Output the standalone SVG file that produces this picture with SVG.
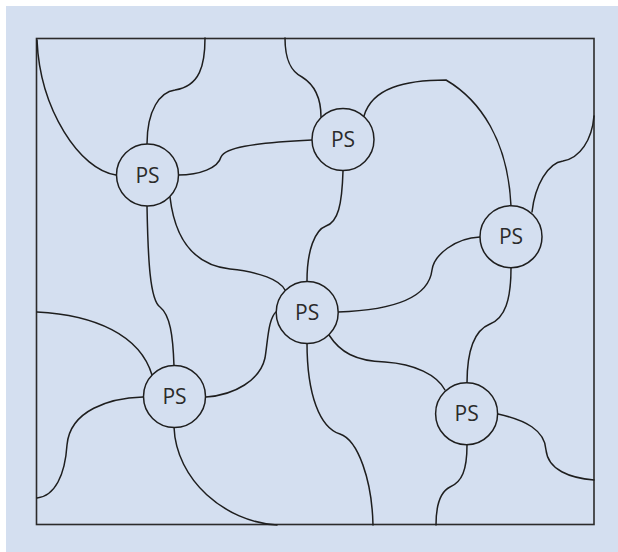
<svg xmlns="http://www.w3.org/2000/svg" width="618" height="552" viewBox="0 0 618 552">
<style>
.bg{fill:#d4dff0}
.frame{fill:none;stroke:#2b2b2b;stroke-width:1.6}
.edge{fill:none;stroke:#1e1e1e;stroke-width:1.5;stroke-linecap:round}
.node circle{fill:#d4dff0;stroke:#1e1e1e;stroke-width:1.5}
.node text{font-family:"Open Sans","Noto Sans","Liberation Sans",sans-serif;font-size:21px;fill:#2b2b2b;text-anchor:middle}
</style>
<rect class="bg" x="6" y="6" width="612" height="546"/>
<rect class="frame" x="36.5" y="38.5" width="557.5" height="486"/>
<g id="connectors">
<path class="edge" d="M116,175 C80,170 40,110 37,40"/>
<path class="edge" d="M147,144 C147,110 160,92 175,90 C200,86 205,65 205,38"/>
<path class="edge" d="M178,175 C200,175 218,168 221,157 C225,148 250,143 312,140"/>
<path class="edge" d="M147,206 C148,260 150,300 160,307 C170,315 173,335 174,366"/>
<path class="edge" d="M170,197 C175,240 195,265 230,269 C260,272 280,280 285,290"/>
<path class="edge" d="M285,38 C285,62 292,72 302,77 C315,85 321,100 321,117"/>
<path class="edge" d="M364,116 C372,88 405,80 446,80 C480,100 508,140 511,206"/>
<path class="edge" d="M343,171 C342,205 338,222 326,226 C315,230 307,250 307,281"/>
<path class="edge" d="M532,212 C535,185 548,163 563,161 C580,158 592,140 594,116"/>
<path class="edge" d="M480,237 C455,238 434,255 432,270 C429,295 400,310 338,312"/>
<path class="edge" d="M511,268 C511,300 505,318 490,324 C475,330 467,350 467,383"/>
<path class="edge" d="M277,311 C268,318 268,340 265,358 C260,380 235,395 206,397"/>
<path class="edge" d="M307,343 C307,395 320,428 340,434 C358,440 372,480 373,525"/>
<path class="edge" d="M329,335 C340,352 355,361 385,362 C415,364 437,375 445,390"/>
<path class="edge" d="M152,375 C140,335 95,315 37,312"/>
<path class="edge" d="M143,397 C110,398 70,410 67,445 C65,475 55,496 37,498"/>
<path class="edge" d="M174,427 C176,480 225,522 277,525"/>
<path class="edge" d="M498,414 C525,420 545,430 546,450 C548,470 570,478 594,480"/>
<path class="edge" d="M467,445 C467,470 462,482 450,487 C440,492 436,505 436,525"/>
</g>
<g id="ps1" class="node"><circle cx="147.5" cy="175" r="31"/><text x="147.5" y="182.5">PS</text></g>
<g id="ps2" class="node"><circle cx="343" cy="139.5" r="31"/><text x="343" y="147">PS</text></g>
<g id="ps3" class="node"><circle cx="511" cy="236.7" r="31"/><text x="511" y="244.2">PS</text></g>
<g id="ps4" class="node"><circle cx="307.2" cy="312.5" r="31"/><text x="307.2" y="320">PS</text></g>
<g id="ps5" class="node"><circle cx="174.5" cy="396.5" r="31"/><text x="174.5" y="404">PS</text></g>
<g id="ps6" class="node"><circle cx="466.6" cy="413.7" r="31"/><text x="466.6" y="421.2">PS</text></g>
</svg>
